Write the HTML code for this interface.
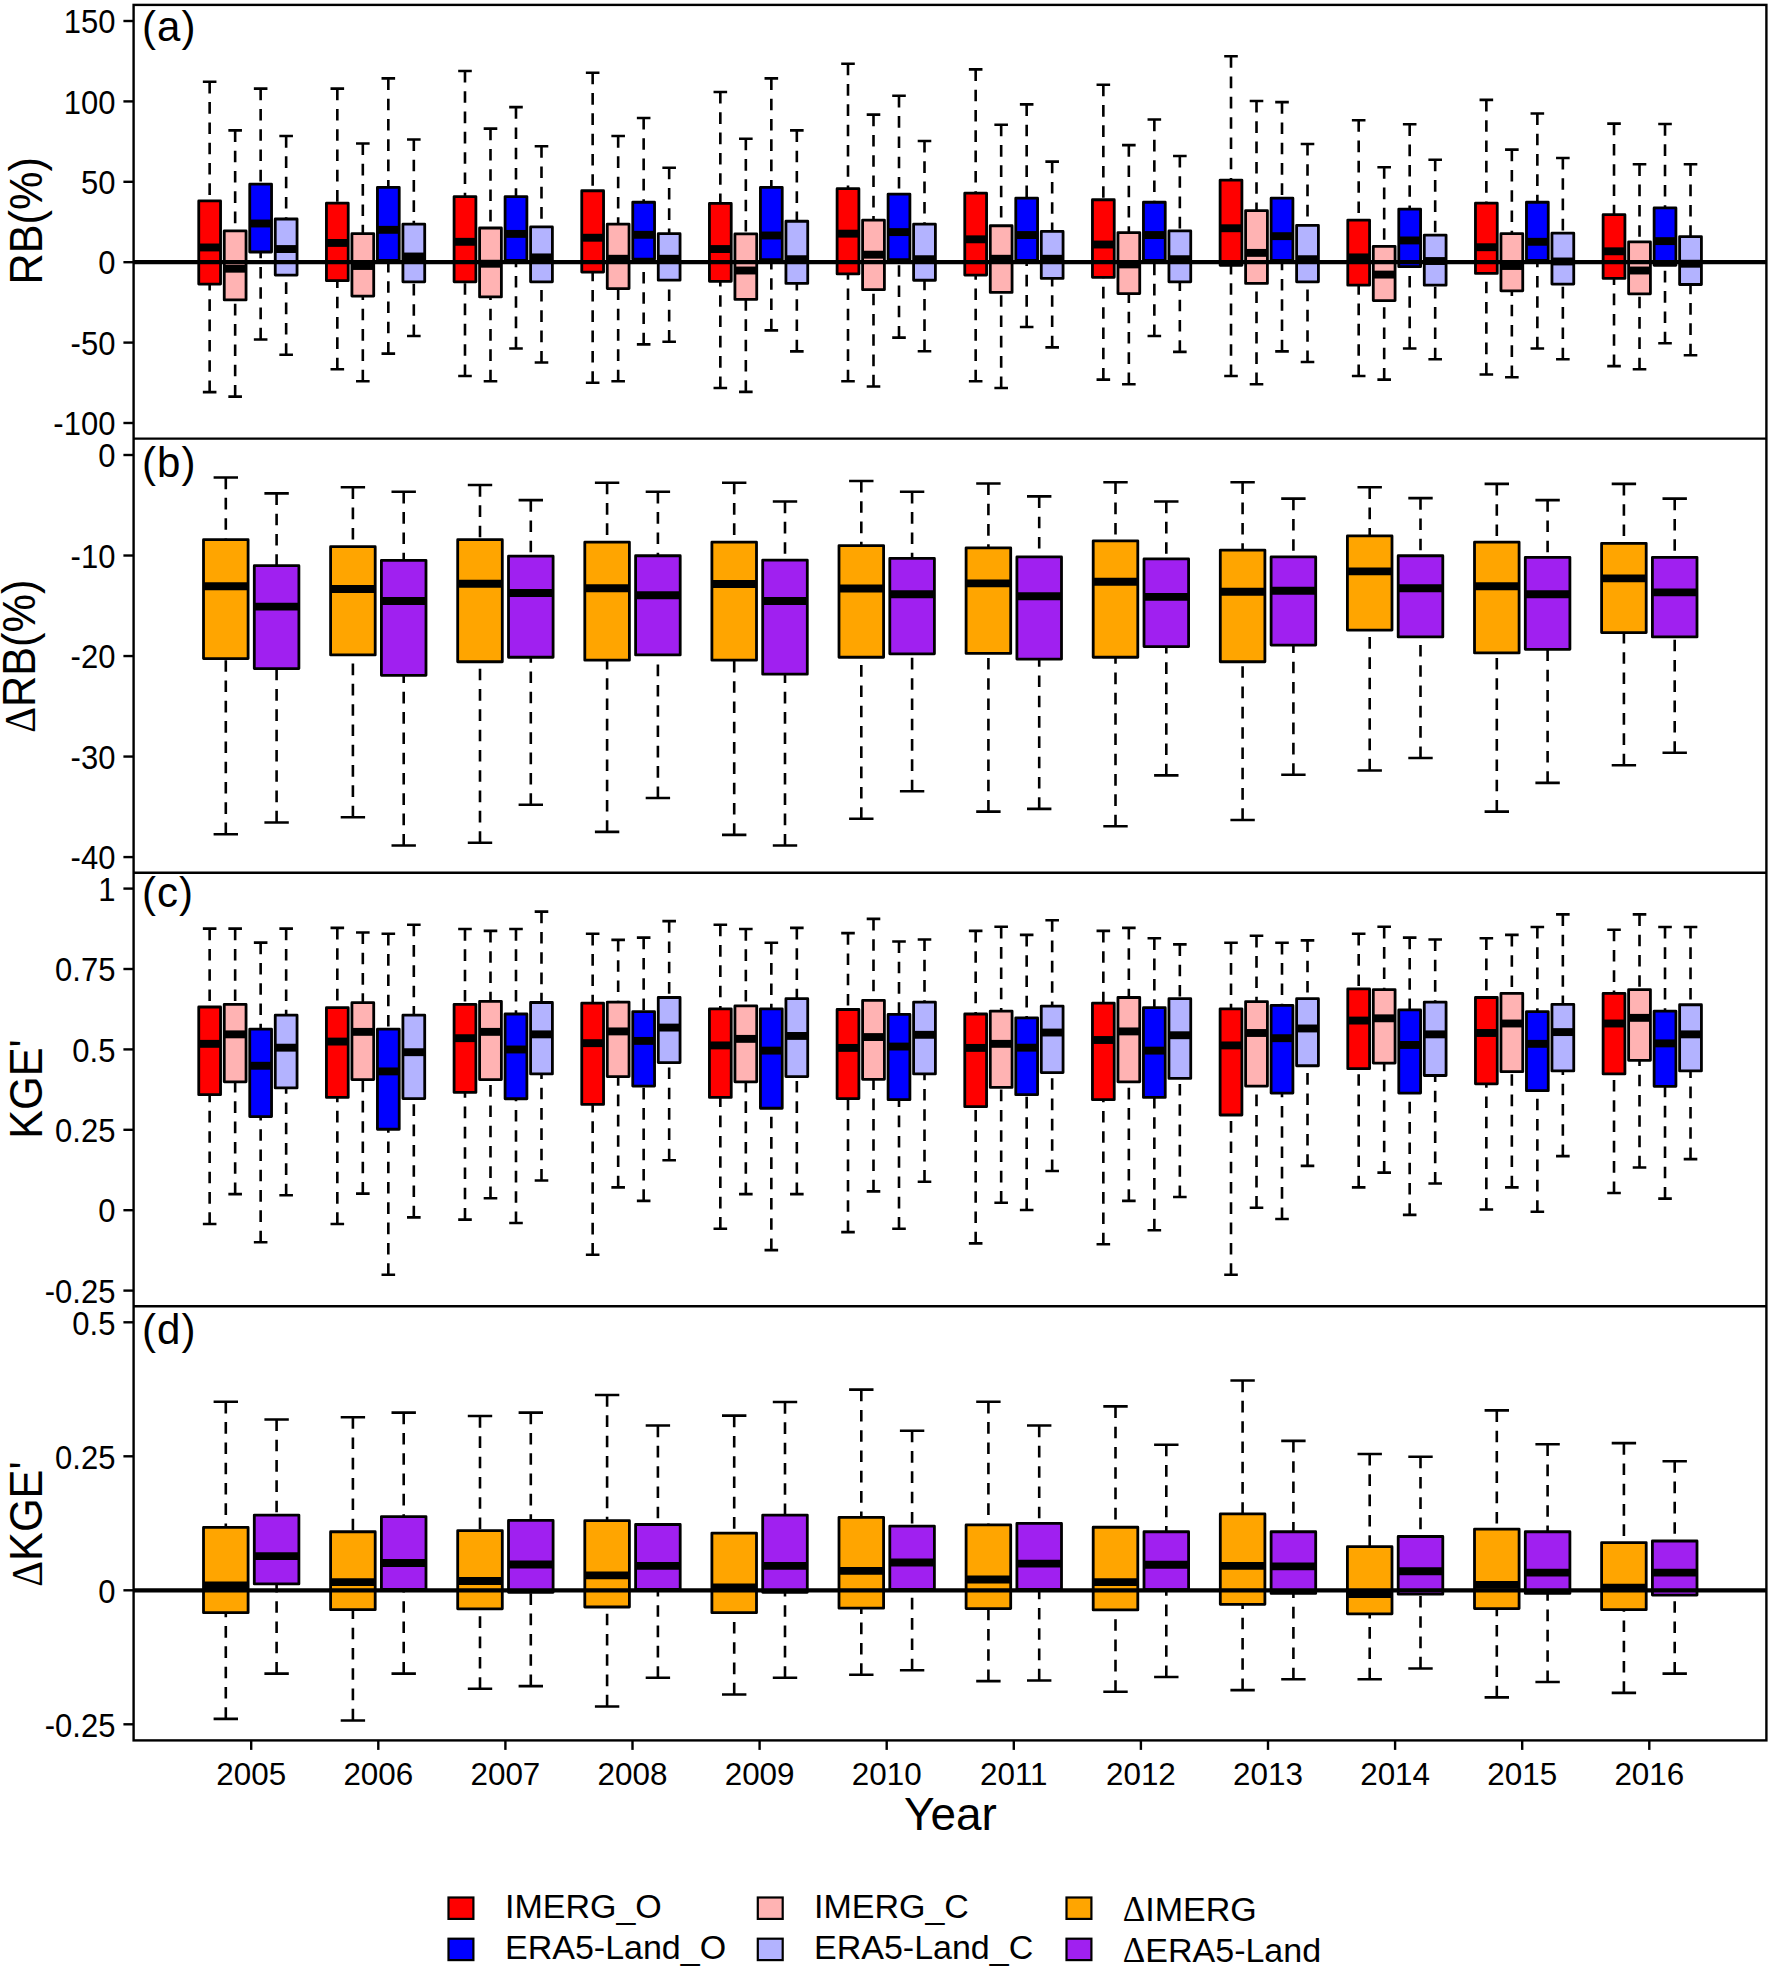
<!DOCTYPE html>
<html lang="en"><head><meta charset="utf-8"><title>Boxplots</title>
<style>html,body{margin:0;padding:0;background:#fff}svg{display:block}</style>
</head><body>
<svg width="1770" height="1970" viewBox="0 0 1770 1970">
<style>
text{font-family:'Liberation Sans',sans-serif;fill:#000}
.wh{stroke:#000;stroke-width:2.6;stroke-dasharray:11.6 8.7;fill:none}
.cap{stroke:#000;stroke-width:2.6;fill:none}
.bx{stroke:#000;stroke-width:2.8;stroke-linejoin:round}
.md{stroke:#000;stroke-width:7.9;fill:none}
.fr{stroke:#000;stroke-width:2.4;fill:none}
.tk{stroke:#000;stroke-width:2.4;fill:none}
.zl{stroke:#000;stroke-width:4.2;fill:none}
.yl{font-size:31px;text-anchor:end}
.xl{font-size:31.4px;text-anchor:middle}
.pl{font-size:42px;letter-spacing:1px}
.yt{font-size:43.3px;text-anchor:middle}
.xt{font-size:45.9px;text-anchor:middle}
.dl{font-family:'Liberation Serif',serif}
.lg{font-size:34px}
.lb{stroke:#000;stroke-width:2.2}
</style>
<rect width="1770" height="1970" fill="#fff"/>
<path d="M209.65 81.81V200.9M209.65 392.09V284.07" class="wh"/>
<path d="M202.85 81.81H216.45M202.85 392.09H216.45" class="cap"/>
<rect x="198.75" y="200.9" width="21.8" height="83.16" fill="#ff0000" class="bx"/>
<path d="M198.75 247.46H220.55" class="md"/>
<path d="M235.15 130.4V230.96M235.15 396.61V299.89" class="wh"/>
<path d="M228.35 130.4H241.95M228.35 396.61H241.95" class="cap"/>
<rect x="224.25" y="230.96" width="21.8" height="68.93" fill="#ffb3b3" class="bx"/>
<path d="M224.25 268.7H246.05" class="md"/>
<path d="M260.65 88.59V184.18M260.65 339.44V251.98" class="wh"/>
<path d="M253.85 88.59H267.45M253.85 339.44H267.45" class="cap"/>
<rect x="249.75" y="184.18" width="21.8" height="67.8" fill="#0000ff" class="bx"/>
<path d="M249.75 223.5H271.55" class="md"/>
<path d="M286.15 136.05V218.98M286.15 354.8V275.03" class="wh"/>
<path d="M279.35 136.05H292.95M279.35 354.8H292.95" class="cap"/>
<rect x="275.25" y="218.98" width="21.8" height="56.05" fill="#b3b3ff" class="bx"/>
<path d="M275.25 249.04H297.05" class="md"/>
<path d="M337.32 88.59V203.16M337.32 369.27V280.68" class="wh"/>
<path d="M330.52 88.59H344.12M330.52 369.27H344.12" class="cap"/>
<rect x="326.42" y="203.16" width="21.8" height="77.51" fill="#ff0000" class="bx"/>
<path d="M326.42 242.94H348.22" class="md"/>
<path d="M362.82 143.5V233.67M362.82 381.24V296.05" class="wh"/>
<path d="M356.02 143.5H369.62M356.02 381.24H369.62" class="cap"/>
<rect x="351.92" y="233.67" width="21.8" height="62.37" fill="#ffb3b3" class="bx"/>
<path d="M351.92 265.99H373.72" class="md"/>
<path d="M388.32 78.42V187.34M388.32 353.67V260.34" class="wh"/>
<path d="M381.52 78.42H395.12M381.52 353.67H395.12" class="cap"/>
<rect x="377.42" y="187.34" width="21.8" height="72.99" fill="#0000ff" class="bx"/>
<path d="M377.42 229.83H399.22" class="md"/>
<path d="M413.82 139.44V224.18M413.82 336.05V281.81" class="wh"/>
<path d="M407.02 139.44H420.62M407.02 336.05H420.62" class="cap"/>
<rect x="402.92" y="224.18" width="21.8" height="57.63" fill="#b3b3ff" class="bx"/>
<path d="M402.92 256.5H424.72" class="md"/>
<path d="M464.99 70.96V196.61M464.99 376.05V281.81" class="wh"/>
<path d="M458.19 70.96H471.79M458.19 376.05H471.79" class="cap"/>
<rect x="454.09" y="196.61" width="21.8" height="85.2" fill="#ff0000" class="bx"/>
<path d="M454.09 241.81H475.89" class="md"/>
<path d="M490.49 128.59V228.02M490.49 381.24V296.95" class="wh"/>
<path d="M483.69 128.59H497.29M483.69 381.24H497.29" class="cap"/>
<rect x="479.59" y="228.02" width="21.8" height="68.93" fill="#ffb3b3" class="bx"/>
<path d="M479.59 263.73H501.39" class="md"/>
<path d="M515.99 107.12V196.61M515.99 348.47V260.34" class="wh"/>
<path d="M509.19 107.12H522.79M509.19 348.47H522.79" class="cap"/>
<rect x="505.09" y="196.61" width="21.8" height="63.73" fill="#0000ff" class="bx"/>
<path d="M505.09 233.9H526.89" class="md"/>
<path d="M541.49 146.21V226.89M541.49 362.49V281.81" class="wh"/>
<path d="M534.69 146.21H548.29M534.69 362.49H548.29" class="cap"/>
<rect x="530.59" y="226.89" width="21.8" height="54.92" fill="#b3b3ff" class="bx"/>
<path d="M530.59 257.4H552.39" class="md"/>
<path d="M592.66 72.77V190.73M592.66 382.82V272.09" class="wh"/>
<path d="M585.86 72.77H599.46M585.86 382.82H599.46" class="cap"/>
<rect x="581.76" y="190.73" width="21.8" height="81.36" fill="#ff0000" class="bx"/>
<path d="M581.76 237.74H603.56" class="md"/>
<path d="M618.16 136.05V224.18M618.16 381.24V288.59" class="wh"/>
<path d="M611.36 136.05H624.96M611.36 381.24H624.96" class="cap"/>
<rect x="607.26" y="224.18" width="21.8" height="64.41" fill="#ffb3b3" class="bx"/>
<path d="M607.26 258.76H629.06" class="md"/>
<path d="M643.66 117.97V202.26M643.66 344.41V259.21" class="wh"/>
<path d="M636.86 117.97H650.46M636.86 344.41H650.46" class="cap"/>
<rect x="632.76" y="202.26" width="21.8" height="56.95" fill="#0000ff" class="bx"/>
<path d="M632.76 234.8H654.56" class="md"/>
<path d="M669.16 167.68V233.67M669.16 341.69V280.23" class="wh"/>
<path d="M662.36 167.68H675.96M662.36 341.69H675.96" class="cap"/>
<rect x="658.26" y="233.67" width="21.8" height="46.55" fill="#b3b3ff" class="bx"/>
<path d="M658.26 258.76H680.06" class="md"/>
<path d="M720.33 91.98V203.39M720.33 388.02V281.36" class="wh"/>
<path d="M713.53 91.98H727.13M713.53 388.02H727.13" class="cap"/>
<rect x="709.43" y="203.39" width="21.8" height="77.97" fill="#ff0000" class="bx"/>
<path d="M709.43 249.04H731.23" class="md"/>
<path d="M745.83 138.76V233.9M745.83 391.86V299.44" class="wh"/>
<path d="M739.03 138.76H752.63M739.03 391.86H752.63" class="cap"/>
<rect x="734.93" y="233.9" width="21.8" height="65.54" fill="#ffb3b3" class="bx"/>
<path d="M734.93 270.51H756.73" class="md"/>
<path d="M771.33 78.42V187.34M771.33 330.4V259.66" class="wh"/>
<path d="M764.53 78.42H778.13M764.53 330.4H778.13" class="cap"/>
<rect x="760.43" y="187.34" width="21.8" height="72.32" fill="#0000ff" class="bx"/>
<path d="M760.43 235.48H782.23" class="md"/>
<path d="M796.83 130.4V221.24M796.83 351.41V283.39" class="wh"/>
<path d="M790.03 130.4H803.63M790.03 351.41H803.63" class="cap"/>
<rect x="785.93" y="221.24" width="21.8" height="62.15" fill="#b3b3ff" class="bx"/>
<path d="M785.93 259.21H807.73" class="md"/>
<path d="M848 63.73V188.7M848 381.24V273.9" class="wh"/>
<path d="M841.2 63.73H854.8M841.2 381.24H854.8" class="cap"/>
<rect x="837.1" y="188.7" width="21.8" height="85.2" fill="#ff0000" class="bx"/>
<path d="M837.1 233.67H858.9" class="md"/>
<path d="M873.5 114.58V220.11M873.5 386.44V289.72" class="wh"/>
<path d="M866.7 114.58H880.3M866.7 386.44H880.3" class="cap"/>
<rect x="862.6" y="220.11" width="21.8" height="69.6" fill="#ffb3b3" class="bx"/>
<path d="M862.6 254.69H884.4" class="md"/>
<path d="M899 95.82V194.12M899 337.63V259.66" class="wh"/>
<path d="M892.2 95.82H905.8M892.2 337.63H905.8" class="cap"/>
<rect x="888.1" y="194.12" width="21.8" height="65.54" fill="#0000ff" class="bx"/>
<path d="M888.1 232.09H909.9" class="md"/>
<path d="M924.5 141.02V224.18M924.5 351.19V280.23" class="wh"/>
<path d="M917.7 141.02H931.3M917.7 351.19H931.3" class="cap"/>
<rect x="913.6" y="224.18" width="21.8" height="56.05" fill="#b3b3ff" class="bx"/>
<path d="M913.6 259.21H935.4" class="md"/>
<path d="M975.67 69.38V193.22M975.67 381.24V275.03" class="wh"/>
<path d="M968.87 69.38H982.47M968.87 381.24H982.47" class="cap"/>
<rect x="964.77" y="193.22" width="21.8" height="81.81" fill="#ff0000" class="bx"/>
<path d="M964.77 239.32H986.57" class="md"/>
<path d="M1001.17 124.75V225.76M1001.17 388.02V292.43" class="wh"/>
<path d="M994.37 124.75H1007.97M994.37 388.02H1007.97" class="cap"/>
<rect x="990.27" y="225.76" width="21.8" height="66.67" fill="#ffb3b3" class="bx"/>
<path d="M990.27 258.76H1012.07" class="md"/>
<path d="M1026.67 104.41V198.19M1026.67 327.01V260.34" class="wh"/>
<path d="M1019.87 104.41H1033.47M1019.87 327.01H1033.47" class="cap"/>
<rect x="1015.77" y="198.19" width="21.8" height="62.15" fill="#0000ff" class="bx"/>
<path d="M1015.77 235.03H1037.57" class="md"/>
<path d="M1052.17 161.58V231.41M1052.17 347.34V278.42" class="wh"/>
<path d="M1045.37 161.58H1058.97M1045.37 347.34H1058.97" class="cap"/>
<rect x="1041.27" y="231.41" width="21.8" height="47.01" fill="#b3b3ff" class="bx"/>
<path d="M1041.27 258.76H1063.07" class="md"/>
<path d="M1103.34 84.75V199.77M1103.34 379.66V277.29" class="wh"/>
<path d="M1096.54 84.75H1110.14M1096.54 379.66H1110.14" class="cap"/>
<rect x="1092.44" y="199.77" width="21.8" height="77.51" fill="#ff0000" class="bx"/>
<path d="M1092.44 244.52H1114.24" class="md"/>
<path d="M1128.84 145.08V232.54M1128.84 384.18V293.56" class="wh"/>
<path d="M1122.04 145.08H1135.64M1122.04 384.18H1135.64" class="cap"/>
<rect x="1117.94" y="232.54" width="21.8" height="61.02" fill="#ffb3b3" class="bx"/>
<path d="M1117.94 264.41H1139.74" class="md"/>
<path d="M1154.34 119.55V202.26M1154.34 336.05V260.34" class="wh"/>
<path d="M1147.54 119.55H1161.14M1147.54 336.05H1161.14" class="cap"/>
<rect x="1143.44" y="202.26" width="21.8" height="58.08" fill="#0000ff" class="bx"/>
<path d="M1143.44 235.03H1165.24" class="md"/>
<path d="M1179.84 155.93V230.96M1179.84 351.86V281.81" class="wh"/>
<path d="M1173.04 155.93H1186.64M1173.04 351.86H1186.64" class="cap"/>
<rect x="1168.94" y="230.96" width="21.8" height="50.85" fill="#b3b3ff" class="bx"/>
<path d="M1168.94 259.21H1190.74" class="md"/>
<path d="M1231.01 56.27V180.11M1231.01 376.05V265.31" class="wh"/>
<path d="M1224.21 56.27H1237.81M1224.21 376.05H1237.81" class="cap"/>
<rect x="1220.11" y="180.11" width="21.8" height="85.2" fill="#ff0000" class="bx"/>
<path d="M1220.11 228.25H1241.91" class="md"/>
<path d="M1256.51 101.02V210.62M1256.51 384.18V283.39" class="wh"/>
<path d="M1249.71 101.02H1263.31M1249.71 384.18H1263.31" class="cap"/>
<rect x="1245.61" y="210.62" width="21.8" height="72.77" fill="#ffb3b3" class="bx"/>
<path d="M1245.61 252.88H1267.41" class="md"/>
<path d="M1282.01 102.15V198.19M1282.01 351.41V260.34" class="wh"/>
<path d="M1275.21 102.15H1288.81M1275.21 351.41H1288.81" class="cap"/>
<rect x="1271.11" y="198.19" width="21.8" height="62.15" fill="#0000ff" class="bx"/>
<path d="M1271.11 236.16H1292.91" class="md"/>
<path d="M1307.51 143.95V225.31M1307.51 362.03V281.81" class="wh"/>
<path d="M1300.71 143.95H1314.31M1300.71 362.03H1314.31" class="cap"/>
<rect x="1296.61" y="225.31" width="21.8" height="56.5" fill="#b3b3ff" class="bx"/>
<path d="M1296.61 259.21H1318.41" class="md"/>
<path d="M1358.68 120.23V220.11M1358.68 376.05V285.2" class="wh"/>
<path d="M1351.88 120.23H1365.48M1351.88 376.05H1365.48" class="cap"/>
<rect x="1347.78" y="220.11" width="21.8" height="65.08" fill="#ff0000" class="bx"/>
<path d="M1347.78 257.4H1369.58" class="md"/>
<path d="M1384.18 167.23V246.33M1384.18 379.66V300.56" class="wh"/>
<path d="M1377.38 167.23H1390.98M1377.38 379.66H1390.98" class="cap"/>
<rect x="1373.28" y="246.33" width="21.8" height="54.24" fill="#ffb3b3" class="bx"/>
<path d="M1373.28 274.58H1395.08" class="md"/>
<path d="M1409.68 124.29V209.04M1409.68 348.47V266.67" class="wh"/>
<path d="M1402.88 124.29H1416.48M1402.88 348.47H1416.48" class="cap"/>
<rect x="1398.78" y="209.04" width="21.8" height="57.63" fill="#0000ff" class="bx"/>
<path d="M1398.78 240.45H1420.58" class="md"/>
<path d="M1435.18 159.77V235.03M1435.18 359.32V285.2" class="wh"/>
<path d="M1428.38 159.77H1441.98M1428.38 359.32H1441.98" class="cap"/>
<rect x="1424.28" y="235.03" width="21.8" height="50.17" fill="#b3b3ff" class="bx"/>
<path d="M1424.28 261.02H1446.08" class="md"/>
<path d="M1486.35 99.89V203.16M1486.35 374.46V273.45" class="wh"/>
<path d="M1479.55 99.89H1493.15M1479.55 374.46H1493.15" class="cap"/>
<rect x="1475.45" y="203.16" width="21.8" height="70.28" fill="#ff0000" class="bx"/>
<path d="M1475.45 247.23H1497.25" class="md"/>
<path d="M1511.85 149.6V233.67M1511.85 377.18V290.85" class="wh"/>
<path d="M1505.05 149.6H1518.65M1505.05 377.18H1518.65" class="cap"/>
<rect x="1500.95" y="233.67" width="21.8" height="57.18" fill="#ffb3b3" class="bx"/>
<path d="M1500.95 265.99H1522.75" class="md"/>
<path d="M1537.35 113.45V202.26M1537.35 348.47V260.34" class="wh"/>
<path d="M1530.55 113.45H1544.15M1530.55 348.47H1544.15" class="cap"/>
<rect x="1526.45" y="202.26" width="21.8" height="58.08" fill="#0000ff" class="bx"/>
<path d="M1526.45 241.81H1548.25" class="md"/>
<path d="M1562.85 157.97V233.22M1562.85 359.32V284.07" class="wh"/>
<path d="M1556.05 157.97H1569.65M1556.05 359.32H1569.65" class="cap"/>
<rect x="1551.95" y="233.22" width="21.8" height="50.85" fill="#b3b3ff" class="bx"/>
<path d="M1551.95 261.47H1573.75" class="md"/>
<path d="M1614.02 123.62V214.69M1614.02 366.1V278.42" class="wh"/>
<path d="M1607.22 123.62H1620.82M1607.22 366.1H1620.82" class="cap"/>
<rect x="1603.12" y="214.69" width="21.8" height="63.73" fill="#ff0000" class="bx"/>
<path d="M1603.12 251.3H1624.92" class="md"/>
<path d="M1639.52 164.29V241.81M1639.52 369.27V293.79" class="wh"/>
<path d="M1632.72 164.29H1646.32M1632.72 369.27H1646.32" class="cap"/>
<rect x="1628.62" y="241.81" width="21.8" height="51.98" fill="#ffb3b3" class="bx"/>
<path d="M1628.62 270.51H1650.42" class="md"/>
<path d="M1665.02 124.07V207.91M1665.02 343.28V265.31" class="wh"/>
<path d="M1658.22 124.07H1671.82M1658.22 343.28H1671.82" class="cap"/>
<rect x="1654.12" y="207.91" width="21.8" height="57.4" fill="#0000ff" class="bx"/>
<path d="M1654.12 241.13H1675.92" class="md"/>
<path d="M1690.52 164.29V236.61M1690.52 355.25V284.52" class="wh"/>
<path d="M1683.72 164.29H1697.32M1683.72 355.25H1697.32" class="cap"/>
<rect x="1679.62" y="236.61" width="21.8" height="47.91" fill="#b3b3ff" class="bx"/>
<path d="M1679.62 263.73H1701.42" class="md"/>
<path d="M225.8 477.57V539.72M225.8 834.18V658.59" class="wh"/>
<path d="M213.6 477.57H238M213.6 834.18H238" class="cap"/>
<rect x="203.5" y="539.72" width="44.6" height="118.87" fill="#ffa500" class="bx"/>
<path d="M203.5 586.27H248.1" class="md"/>
<path d="M276.6 493.39V565.71M276.6 822.43V668.53" class="wh"/>
<path d="M264.4 493.39H288.8M264.4 822.43H288.8" class="cap"/>
<rect x="254.3" y="565.71" width="44.6" height="102.82" fill="#a020f0" class="bx"/>
<path d="M254.3 606.61H298.9" class="md"/>
<path d="M352.9 487.29V546.72M352.9 817.23V654.97" class="wh"/>
<path d="M340.7 487.29H365.1M340.7 817.23H365.1" class="cap"/>
<rect x="330.6" y="546.72" width="44.6" height="108.25" fill="#ffa500" class="bx"/>
<path d="M330.6 588.98H375.2" class="md"/>
<path d="M403.7 491.81V560.28M403.7 845.48V675.31" class="wh"/>
<path d="M391.5 491.81H415.9M391.5 845.48H415.9" class="cap"/>
<rect x="381.4" y="560.28" width="44.6" height="115.03" fill="#a020f0" class="bx"/>
<path d="M381.4 600.96H426" class="md"/>
<path d="M480 485.03V539.72M480 842.77V661.75" class="wh"/>
<path d="M467.8 485.03H492.2M467.8 842.77H492.2" class="cap"/>
<rect x="457.7" y="539.72" width="44.6" height="122.03" fill="#ffa500" class="bx"/>
<path d="M457.7 583.79H502.3" class="md"/>
<path d="M530.8 500.17V556.21M530.8 804.8V657.23" class="wh"/>
<path d="M518.6 500.17H543M518.6 804.8H543" class="cap"/>
<rect x="508.5" y="556.21" width="44.6" height="101.02" fill="#a020f0" class="bx"/>
<path d="M508.5 593.05H553.1" class="md"/>
<path d="M607.1 482.77V542.2M607.1 831.92V660.17" class="wh"/>
<path d="M594.9 482.77H619.3M594.9 831.92H619.3" class="cap"/>
<rect x="584.8" y="542.2" width="44.6" height="117.97" fill="#ffa500" class="bx"/>
<path d="M584.8 588.31H629.4" class="md"/>
<path d="M657.9 491.81V555.76M657.9 798.02V654.97" class="wh"/>
<path d="M645.7 491.81H670.1M645.7 798.02H670.1" class="cap"/>
<rect x="635.6" y="555.76" width="44.6" height="99.21" fill="#a020f0" class="bx"/>
<path d="M635.6 595.31H680.2" class="md"/>
<path d="M734.2 482.77V542.2M734.2 834.86V660.17" class="wh"/>
<path d="M722 482.77H746.4M722 834.86H746.4" class="cap"/>
<rect x="711.9" y="542.2" width="44.6" height="117.97" fill="#ffa500" class="bx"/>
<path d="M711.9 584.01H756.5" class="md"/>
<path d="M785 501.53V560.06M785 845.48V674.18" class="wh"/>
<path d="M772.8 501.53H797.2M772.8 845.48H797.2" class="cap"/>
<rect x="762.7" y="560.06" width="44.6" height="114.12" fill="#a020f0" class="bx"/>
<path d="M762.7 600.96H807.3" class="md"/>
<path d="M861.3 480.96V545.59M861.3 818.81V657.23" class="wh"/>
<path d="M849.1 480.96H873.5M849.1 818.81H873.5" class="cap"/>
<rect x="839" y="545.59" width="44.6" height="111.64" fill="#ffa500" class="bx"/>
<path d="M839 588.53H883.6" class="md"/>
<path d="M912.1 491.81V558.47M912.1 791.24V653.84" class="wh"/>
<path d="M899.9 491.81H924.3M899.9 791.24H924.3" class="cap"/>
<rect x="889.8" y="558.47" width="44.6" height="95.37" fill="#a020f0" class="bx"/>
<path d="M889.8 594.18H934.4" class="md"/>
<path d="M988.4 483.45V547.85M988.4 811.58V653.39" class="wh"/>
<path d="M976.2 483.45H1000.6M976.2 811.58H1000.6" class="cap"/>
<rect x="966.1" y="547.85" width="44.6" height="105.54" fill="#ffa500" class="bx"/>
<path d="M966.1 583.33H1010.7" class="md"/>
<path d="M1039.2 496.33V556.89M1039.2 808.87V659.04" class="wh"/>
<path d="M1027 496.33H1051.4M1027 808.87H1051.4" class="cap"/>
<rect x="1016.9" y="556.89" width="44.6" height="102.15" fill="#a020f0" class="bx"/>
<path d="M1016.9 596.21H1061.5" class="md"/>
<path d="M1115.5 482.32V540.85M1115.5 826.27V657.23" class="wh"/>
<path d="M1103.3 482.32H1127.7M1103.3 826.27H1127.7" class="cap"/>
<rect x="1093.2" y="540.85" width="44.6" height="116.38" fill="#ffa500" class="bx"/>
<path d="M1093.2 581.75H1137.8" class="md"/>
<path d="M1166.3 501.53V558.93M1166.3 775.42V646.61" class="wh"/>
<path d="M1154.1 501.53H1178.5M1154.1 775.42H1178.5" class="cap"/>
<rect x="1144" y="558.93" width="44.6" height="87.68" fill="#a020f0" class="bx"/>
<path d="M1144 596.89H1188.6" class="md"/>
<path d="M1242.6 482.32V550.11M1242.6 819.94V661.75" class="wh"/>
<path d="M1230.4 482.32H1254.8M1230.4 819.94H1254.8" class="cap"/>
<rect x="1220.3" y="550.11" width="44.6" height="111.64" fill="#ffa500" class="bx"/>
<path d="M1220.3 591.69H1264.9" class="md"/>
<path d="M1293.4 498.59V556.89M1293.4 774.75V645.03" class="wh"/>
<path d="M1281.2 498.59H1305.6M1281.2 774.75H1305.6" class="cap"/>
<rect x="1271.1" y="556.89" width="44.6" height="88.14" fill="#a020f0" class="bx"/>
<path d="M1271.1 590.79H1315.7" class="md"/>
<path d="M1369.7 487.29V535.88M1369.7 770.45V630.11" class="wh"/>
<path d="M1357.5 487.29H1381.9M1357.5 770.45H1381.9" class="cap"/>
<rect x="1347.4" y="535.88" width="44.6" height="94.24" fill="#ffa500" class="bx"/>
<path d="M1347.4 571.36H1392" class="md"/>
<path d="M1420.5 498.14V555.76M1420.5 758.02V636.89" class="wh"/>
<path d="M1408.3 498.14H1432.7M1408.3 758.02H1432.7" class="cap"/>
<rect x="1398.2" y="555.76" width="44.6" height="81.13" fill="#a020f0" class="bx"/>
<path d="M1398.2 588.31H1442.8" class="md"/>
<path d="M1496.8 483.9V542.2M1496.8 811.58V652.94" class="wh"/>
<path d="M1484.6 483.9H1509M1484.6 811.58H1509" class="cap"/>
<rect x="1474.5" y="542.2" width="44.6" height="110.73" fill="#ffa500" class="bx"/>
<path d="M1474.5 586.27H1519.1" class="md"/>
<path d="M1547.6 500.17V557.34M1547.6 782.88V649.32" class="wh"/>
<path d="M1535.4 500.17H1559.8M1535.4 782.88H1559.8" class="cap"/>
<rect x="1525.3" y="557.34" width="44.6" height="91.98" fill="#a020f0" class="bx"/>
<path d="M1525.3 594.18H1569.9" class="md"/>
<path d="M1623.9 483.9V543.33M1623.9 765.25V632.6" class="wh"/>
<path d="M1611.7 483.9H1636.1M1611.7 765.25H1636.1" class="cap"/>
<rect x="1601.6" y="543.33" width="44.6" height="89.27" fill="#ffa500" class="bx"/>
<path d="M1601.6 578.36H1646.2" class="md"/>
<path d="M1674.7 498.59V557.34M1674.7 752.82V636.89" class="wh"/>
<path d="M1662.5 498.59H1686.9M1662.5 752.82H1686.9" class="cap"/>
<rect x="1652.4" y="557.34" width="44.6" height="79.55" fill="#a020f0" class="bx"/>
<path d="M1652.4 592.37H1697" class="md"/>
<path d="M209.65 928.59V1007.01M209.65 1223.95V1094.69" class="wh"/>
<path d="M202.85 928.59H216.45M202.85 1223.95H216.45" class="cap"/>
<rect x="198.75" y="1007.01" width="21.8" height="87.68" fill="#ff0000" class="bx"/>
<path d="M198.75 1043.84H220.55" class="md"/>
<path d="M235.15 928.59V1004.29M235.15 1194.12V1081.81" class="wh"/>
<path d="M228.35 928.59H241.95M228.35 1194.12H241.95" class="cap"/>
<rect x="224.25" y="1004.29" width="21.8" height="77.51" fill="#ffb3b3" class="bx"/>
<path d="M224.25 1034.35H246.05" class="md"/>
<path d="M260.65 942.6V1029.15M260.65 1242.26V1116.61" class="wh"/>
<path d="M253.85 942.6H267.45M253.85 1242.26H267.45" class="cap"/>
<rect x="249.75" y="1029.15" width="21.8" height="87.46" fill="#0000ff" class="bx"/>
<path d="M249.75 1065.76H271.55" class="md"/>
<path d="M286.15 928.59V1015.14M286.15 1195.25V1087.91" class="wh"/>
<path d="M279.35 928.59H292.95M279.35 1195.25H292.95" class="cap"/>
<rect x="275.25" y="1015.14" width="21.8" height="72.77" fill="#b3b3ff" class="bx"/>
<path d="M275.25 1047.68H297.05" class="md"/>
<path d="M337.32 927.91V1007.68M337.32 1223.95V1097.4" class="wh"/>
<path d="M330.52 927.91H344.12M330.52 1223.95H344.12" class="cap"/>
<rect x="326.42" y="1007.68" width="21.8" height="89.72" fill="#ff0000" class="bx"/>
<path d="M326.42 1041.58H348.22" class="md"/>
<path d="M362.82 932.43V1002.71M362.82 1193.67V1079.55" class="wh"/>
<path d="M356.02 932.43H369.62M356.02 1193.67H369.62" class="cap"/>
<rect x="351.92" y="1002.71" width="21.8" height="76.84" fill="#ffb3b3" class="bx"/>
<path d="M351.92 1031.86H373.72" class="md"/>
<path d="M388.32 933.79V1029.15M388.32 1274.8V1129.27" class="wh"/>
<path d="M381.52 933.79H395.12M381.52 1274.8H395.12" class="cap"/>
<rect x="377.42" y="1029.15" width="21.8" height="100.11" fill="#0000ff" class="bx"/>
<path d="M377.42 1071.41H399.22" class="md"/>
<path d="M413.82 924.75V1015.14M413.82 1217.4V1098.53" class="wh"/>
<path d="M407.02 924.75H420.62M407.02 1217.4H420.62" class="cap"/>
<rect x="402.92" y="1015.14" width="21.8" height="83.39" fill="#b3b3ff" class="bx"/>
<path d="M402.92 1052.2H424.72" class="md"/>
<path d="M464.99 929.04V1004.29M464.99 1219.66V1092.43" class="wh"/>
<path d="M458.19 929.04H471.79M458.19 1219.66H471.79" class="cap"/>
<rect x="454.09" y="1004.29" width="21.8" height="88.14" fill="#ff0000" class="bx"/>
<path d="M454.09 1038.19H475.89" class="md"/>
<path d="M490.49 930.85V1001.36M490.49 1198.19V1079.55" class="wh"/>
<path d="M483.69 930.85H497.29M483.69 1198.19H497.29" class="cap"/>
<rect x="479.59" y="1001.36" width="21.8" height="78.19" fill="#ffb3b3" class="bx"/>
<path d="M479.59 1031.86H501.39" class="md"/>
<path d="M515.99 929.04V1014.01M515.99 1223.05V1098.76" class="wh"/>
<path d="M509.19 929.04H522.79M509.19 1223.05H522.79" class="cap"/>
<rect x="505.09" y="1014.01" width="21.8" height="84.75" fill="#0000ff" class="bx"/>
<path d="M505.09 1049.49H526.89" class="md"/>
<path d="M541.49 911.64V1002.49M541.49 1180.56V1073.9" class="wh"/>
<path d="M534.69 911.64H548.29M534.69 1180.56H548.29" class="cap"/>
<rect x="530.59" y="1002.49" width="21.8" height="71.41" fill="#b3b3ff" class="bx"/>
<path d="M530.59 1034.35H552.39" class="md"/>
<path d="M592.66 933.79V1003.16M592.66 1254.69V1104.41" class="wh"/>
<path d="M585.86 933.79H599.46M585.86 1254.69H599.46" class="cap"/>
<rect x="581.76" y="1003.16" width="21.8" height="101.24" fill="#ff0000" class="bx"/>
<path d="M581.76 1043.16H603.56" class="md"/>
<path d="M618.16 939.89V1002.03M618.16 1187.34V1076.61" class="wh"/>
<path d="M611.36 939.89H624.96M611.36 1187.34H624.96" class="cap"/>
<rect x="607.26" y="1002.03" width="21.8" height="74.58" fill="#ffb3b3" class="bx"/>
<path d="M607.26 1031.41H629.06" class="md"/>
<path d="M643.66 937.63V1011.53M643.66 1200.9V1086.1" class="wh"/>
<path d="M636.86 937.63H650.46M636.86 1200.9H650.46" class="cap"/>
<rect x="632.76" y="1011.53" width="21.8" height="74.58" fill="#0000ff" class="bx"/>
<path d="M632.76 1040.9H654.56" class="md"/>
<path d="M669.16 921.13V997.51M669.16 1160.23V1062.6" class="wh"/>
<path d="M662.36 921.13H675.96M662.36 1160.23H675.96" class="cap"/>
<rect x="658.26" y="997.51" width="21.8" height="65.08" fill="#b3b3ff" class="bx"/>
<path d="M658.26 1027.57H680.06" class="md"/>
<path d="M720.33 924.75V1008.81M720.33 1228.7V1097.4" class="wh"/>
<path d="M713.53 924.75H727.13M713.53 1228.7H727.13" class="cap"/>
<rect x="709.43" y="1008.81" width="21.8" height="88.59" fill="#ff0000" class="bx"/>
<path d="M709.43 1045.42H731.23" class="md"/>
<path d="M745.83 929.04V1005.88M745.83 1194.12V1081.81" class="wh"/>
<path d="M739.03 929.04H752.63M739.03 1194.12H752.63" class="cap"/>
<rect x="734.93" y="1005.88" width="21.8" height="75.93" fill="#ffb3b3" class="bx"/>
<path d="M734.93 1038.87H756.73" class="md"/>
<path d="M771.33 942.82V1008.81M771.33 1250.17V1108.25" class="wh"/>
<path d="M764.53 942.82H778.13M764.53 1250.17H778.13" class="cap"/>
<rect x="760.43" y="1008.81" width="21.8" height="99.44" fill="#0000ff" class="bx"/>
<path d="M760.43 1050.62H782.23" class="md"/>
<path d="M796.83 927.91V998.64M796.83 1194.12V1076.61" class="wh"/>
<path d="M790.03 927.91H803.63M790.03 1194.12H803.63" class="cap"/>
<rect x="785.93" y="998.64" width="21.8" height="77.97" fill="#b3b3ff" class="bx"/>
<path d="M785.93 1035.93H807.73" class="md"/>
<path d="M848 933.11V1009.49M848 1232.09V1098.53" class="wh"/>
<path d="M841.2 933.11H854.8M841.2 1232.09H854.8" class="cap"/>
<rect x="837.1" y="1009.49" width="21.8" height="89.04" fill="#ff0000" class="bx"/>
<path d="M837.1 1047.91H858.9" class="md"/>
<path d="M873.5 918.87V1000.45M873.5 1191.41V1079.32" class="wh"/>
<path d="M866.7 918.87H880.3M866.7 1191.41H880.3" class="cap"/>
<rect x="862.6" y="1000.45" width="21.8" height="78.87" fill="#ffb3b3" class="bx"/>
<path d="M862.6 1037.06H884.4" class="md"/>
<path d="M899 941.47V1014.46M899 1228.7V1099.66" class="wh"/>
<path d="M892.2 941.47H905.8M892.2 1228.7H905.8" class="cap"/>
<rect x="888.1" y="1014.46" width="21.8" height="85.2" fill="#0000ff" class="bx"/>
<path d="M888.1 1046.55H909.9" class="md"/>
<path d="M924.5 939.44V1002.03M924.5 1181.69V1073.9" class="wh"/>
<path d="M917.7 939.44H931.3M917.7 1181.69H931.3" class="cap"/>
<rect x="913.6" y="1002.03" width="21.8" height="71.86" fill="#b3b3ff" class="bx"/>
<path d="M913.6 1034.8H935.4" class="md"/>
<path d="M975.67 930.85V1014.01M975.67 1243.39V1106.67" class="wh"/>
<path d="M968.87 930.85H982.47M968.87 1243.39H982.47" class="cap"/>
<rect x="964.77" y="1014.01" width="21.8" height="92.66" fill="#ff0000" class="bx"/>
<path d="M964.77 1047.91H986.57" class="md"/>
<path d="M1001.17 926.78V1011.07M1001.17 1202.71V1087.46" class="wh"/>
<path d="M994.37 926.78H1007.97M994.37 1202.71H1007.97" class="cap"/>
<rect x="990.27" y="1011.07" width="21.8" height="76.38" fill="#ffb3b3" class="bx"/>
<path d="M990.27 1043.84H1012.07" class="md"/>
<path d="M1026.67 934.92V1017.85M1026.67 1209.94V1094.69" class="wh"/>
<path d="M1019.87 934.92H1033.47M1019.87 1209.94H1033.47" class="cap"/>
<rect x="1015.77" y="1017.85" width="21.8" height="76.84" fill="#0000ff" class="bx"/>
<path d="M1015.77 1047.68H1037.57" class="md"/>
<path d="M1052.17 920.23V1006.1M1052.17 1171.07V1072.54" class="wh"/>
<path d="M1045.37 920.23H1058.97M1045.37 1171.07H1058.97" class="cap"/>
<rect x="1041.27" y="1006.1" width="21.8" height="66.44" fill="#b3b3ff" class="bx"/>
<path d="M1041.27 1032.54H1063.07" class="md"/>
<path d="M1103.34 930.85V1003.16M1103.34 1244.29V1099.66" class="wh"/>
<path d="M1096.54 930.85H1110.14M1096.54 1244.29H1110.14" class="cap"/>
<rect x="1092.44" y="1003.16" width="21.8" height="96.5" fill="#ff0000" class="bx"/>
<path d="M1092.44 1040H1114.24" class="md"/>
<path d="M1128.84 927.91V997.51M1128.84 1200.9V1081.81" class="wh"/>
<path d="M1122.04 927.91H1135.64M1122.04 1200.9H1135.64" class="cap"/>
<rect x="1117.94" y="997.51" width="21.8" height="84.29" fill="#ffb3b3" class="bx"/>
<path d="M1117.94 1031.41H1139.74" class="md"/>
<path d="M1154.34 938.31V1007.68M1154.34 1230.28V1097.4" class="wh"/>
<path d="M1147.54 938.31H1161.14M1147.54 1230.28H1161.14" class="cap"/>
<rect x="1143.44" y="1007.68" width="21.8" height="89.72" fill="#0000ff" class="bx"/>
<path d="M1143.44 1050.62H1165.24" class="md"/>
<path d="M1179.84 944.41V998.64M1179.84 1197.06V1078.42" class="wh"/>
<path d="M1173.04 944.41H1186.64M1173.04 1197.06H1186.64" class="cap"/>
<rect x="1168.94" y="998.64" width="21.8" height="79.77" fill="#b3b3ff" class="bx"/>
<path d="M1168.94 1035.25H1190.74" class="md"/>
<path d="M1231.01 942.82V1008.81M1231.01 1274.8V1115.03" class="wh"/>
<path d="M1224.21 942.82H1237.81M1224.21 1274.8H1237.81" class="cap"/>
<rect x="1220.11" y="1008.81" width="21.8" height="106.21" fill="#ff0000" class="bx"/>
<path d="M1220.11 1045.42H1241.91" class="md"/>
<path d="M1256.51 935.82V1001.58M1256.51 1207.68V1086.1" class="wh"/>
<path d="M1249.71 935.82H1263.31M1249.71 1207.68H1263.31" class="cap"/>
<rect x="1245.61" y="1001.58" width="21.8" height="84.52" fill="#ffb3b3" class="bx"/>
<path d="M1245.61 1032.99H1267.41" class="md"/>
<path d="M1282.01 942.82V1005.42M1282.01 1218.98V1093.11" class="wh"/>
<path d="M1275.21 942.82H1288.81M1275.21 1218.98H1288.81" class="cap"/>
<rect x="1271.11" y="1005.42" width="21.8" height="87.68" fill="#0000ff" class="bx"/>
<path d="M1271.11 1038.19H1292.91" class="md"/>
<path d="M1307.51 940.34V998.64M1307.51 1165.88V1065.76" class="wh"/>
<path d="M1300.71 940.34H1314.31M1300.71 1165.88H1314.31" class="cap"/>
<rect x="1296.61" y="998.64" width="21.8" height="67.12" fill="#b3b3ff" class="bx"/>
<path d="M1296.61 1028.47H1318.41" class="md"/>
<path d="M1358.68 933.79V988.93M1358.68 1187.34V1068.7" class="wh"/>
<path d="M1351.88 933.79H1365.48M1351.88 1187.34H1365.48" class="cap"/>
<rect x="1347.78" y="988.93" width="21.8" height="79.77" fill="#ff0000" class="bx"/>
<path d="M1347.78 1020.56H1369.58" class="md"/>
<path d="M1384.18 926.78V989.6M1384.18 1172.66V1063.05" class="wh"/>
<path d="M1377.38 926.78H1390.98M1377.38 1172.66H1390.98" class="cap"/>
<rect x="1373.28" y="989.6" width="21.8" height="73.45" fill="#ffb3b3" class="bx"/>
<path d="M1373.28 1018.31H1395.08" class="md"/>
<path d="M1409.68 937.63V1009.94M1409.68 1214.92V1093.11" class="wh"/>
<path d="M1402.88 937.63H1416.48M1402.88 1214.92H1416.48" class="cap"/>
<rect x="1398.78" y="1009.94" width="21.8" height="83.16" fill="#0000ff" class="bx"/>
<path d="M1398.78 1044.97H1420.58" class="md"/>
<path d="M1435.18 939.44V1002.03M1435.18 1183.5V1075.48" class="wh"/>
<path d="M1428.38 939.44H1441.98M1428.38 1183.5H1441.98" class="cap"/>
<rect x="1424.28" y="1002.03" width="21.8" height="73.45" fill="#b3b3ff" class="bx"/>
<path d="M1424.28 1034.35H1446.08" class="md"/>
<path d="M1486.35 938.31V997.51M1486.35 1209.49V1083.84" class="wh"/>
<path d="M1479.55 938.31H1493.15M1479.55 1209.49H1493.15" class="cap"/>
<rect x="1475.45" y="997.51" width="21.8" height="86.33" fill="#ff0000" class="bx"/>
<path d="M1475.45 1032.99H1497.25" class="md"/>
<path d="M1511.85 934.92V993.45M1511.85 1187.34V1071.64" class="wh"/>
<path d="M1505.05 934.92H1518.65M1505.05 1187.34H1518.65" class="cap"/>
<rect x="1500.95" y="993.45" width="21.8" height="78.19" fill="#ffb3b3" class="bx"/>
<path d="M1500.95 1023.5H1522.75" class="md"/>
<path d="M1537.35 927.01V1011.53M1537.35 1211.75V1090.62" class="wh"/>
<path d="M1530.55 927.01H1544.15M1530.55 1211.75H1544.15" class="cap"/>
<rect x="1526.45" y="1011.53" width="21.8" height="79.1" fill="#0000ff" class="bx"/>
<path d="M1526.45 1043.84H1548.25" class="md"/>
<path d="M1562.85 914.35V1004.29M1562.85 1156.16V1070.96" class="wh"/>
<path d="M1556.05 914.35H1569.65M1556.05 1156.16H1569.65" class="cap"/>
<rect x="1551.95" y="1004.29" width="21.8" height="66.67" fill="#b3b3ff" class="bx"/>
<path d="M1551.95 1032.09H1573.75" class="md"/>
<path d="M1614.02 929.72V993.45M1614.02 1192.99V1073.9" class="wh"/>
<path d="M1607.22 929.72H1620.82M1607.22 1192.99H1620.82" class="cap"/>
<rect x="1603.12" y="993.45" width="21.8" height="80.45" fill="#ff0000" class="bx"/>
<path d="M1603.12 1023.5H1624.92" class="md"/>
<path d="M1639.52 914.35V989.6M1639.52 1167.46V1060.34" class="wh"/>
<path d="M1632.72 914.35H1646.32M1632.72 1167.46H1646.32" class="cap"/>
<rect x="1628.62" y="989.6" width="21.8" height="70.73" fill="#ffb3b3" class="bx"/>
<path d="M1628.62 1017.85H1650.42" class="md"/>
<path d="M1665.02 927.01V1011.07M1665.02 1198.64V1086.33" class="wh"/>
<path d="M1658.22 927.01H1671.82M1658.22 1198.64H1671.82" class="cap"/>
<rect x="1654.12" y="1011.07" width="21.8" height="75.25" fill="#0000ff" class="bx"/>
<path d="M1654.12 1043.39H1675.92" class="md"/>
<path d="M1690.52 927.01V1004.75M1690.52 1159.1V1070.96" class="wh"/>
<path d="M1683.72 927.01H1697.32M1683.72 1159.1H1697.32" class="cap"/>
<rect x="1679.62" y="1004.75" width="21.8" height="66.21" fill="#b3b3ff" class="bx"/>
<path d="M1679.62 1034.35H1701.42" class="md"/>
<path d="M225.8 1401.81V1527.46M225.8 1718.87V1612.66" class="wh"/>
<path d="M213.6 1401.81H238M213.6 1718.87H238" class="cap"/>
<rect x="203.5" y="1527.46" width="44.6" height="85.2" fill="#ffa500" class="bx"/>
<path d="M203.5 1585.54H248.1" class="md"/>
<path d="M276.6 1419.44V1515.03M276.6 1673.67V1583.95" class="wh"/>
<path d="M264.4 1419.44H288.8M264.4 1673.67H288.8" class="cap"/>
<rect x="254.3" y="1515.03" width="44.6" height="68.93" fill="#a020f0" class="bx"/>
<path d="M254.3 1556.16H298.9" class="md"/>
<path d="M352.9 1417.18V1531.75M352.9 1720.45V1609.72" class="wh"/>
<path d="M340.7 1417.18H365.1M340.7 1720.45H365.1" class="cap"/>
<rect x="330.6" y="1531.75" width="44.6" height="77.97" fill="#ffa500" class="bx"/>
<path d="M330.6 1582.15H375.2" class="md"/>
<path d="M403.7 1412.66V1516.61M403.7 1673.67V1589.38" class="wh"/>
<path d="M391.5 1412.66H415.9M391.5 1673.67H415.9" class="cap"/>
<rect x="381.4" y="1516.61" width="44.6" height="72.77" fill="#a020f0" class="bx"/>
<path d="M381.4 1562.94H426" class="md"/>
<path d="M480 1416.05V1530.62M480 1688.81V1608.81" class="wh"/>
<path d="M467.8 1416.05H492.2M467.8 1688.81H492.2" class="cap"/>
<rect x="457.7" y="1530.62" width="44.6" height="78.19" fill="#ffa500" class="bx"/>
<path d="M457.7 1581.02H502.3" class="md"/>
<path d="M530.8 1412.66V1520.45M530.8 1686.1V1592.32" class="wh"/>
<path d="M518.6 1412.66H543M518.6 1686.1H543" class="cap"/>
<rect x="508.5" y="1520.45" width="44.6" height="71.86" fill="#a020f0" class="bx"/>
<path d="M508.5 1564.52H553.1" class="md"/>
<path d="M607.1 1395.03V1520.68M607.1 1706.44V1607.01" class="wh"/>
<path d="M594.9 1395.03H619.3M594.9 1706.44H619.3" class="cap"/>
<rect x="584.8" y="1520.68" width="44.6" height="86.33" fill="#ffa500" class="bx"/>
<path d="M584.8 1575.37H629.4" class="md"/>
<path d="M657.9 1425.54V1524.52M657.9 1677.74V1589.38" class="wh"/>
<path d="M645.7 1425.54H670.1M645.7 1677.74H670.1" class="cap"/>
<rect x="635.6" y="1524.52" width="44.6" height="64.86" fill="#a020f0" class="bx"/>
<path d="M635.6 1565.88H680.2" class="md"/>
<path d="M734.2 1415.59V1533.11M734.2 1694.46V1612.66" class="wh"/>
<path d="M722 1415.59H746.4M722 1694.46H746.4" class="cap"/>
<rect x="711.9" y="1533.11" width="44.6" height="79.55" fill="#ffa500" class="bx"/>
<path d="M711.9 1587.34H756.5" class="md"/>
<path d="M785 1402.03V1515.03M785 1677.74V1592.32" class="wh"/>
<path d="M772.8 1402.03H797.2M772.8 1677.74H797.2" class="cap"/>
<rect x="762.7" y="1515.03" width="44.6" height="77.29" fill="#a020f0" class="bx"/>
<path d="M762.7 1565.88H807.3" class="md"/>
<path d="M861.3 1389.6V1517.29M861.3 1674.8V1608.14" class="wh"/>
<path d="M849.1 1389.6H873.5M849.1 1674.8H873.5" class="cap"/>
<rect x="839" y="1517.29" width="44.6" height="90.85" fill="#ffa500" class="bx"/>
<path d="M839 1570.85H883.6" class="md"/>
<path d="M912.1 1430.73V1526.1M912.1 1670.28V1589.38" class="wh"/>
<path d="M899.9 1430.73H924.3M899.9 1670.28H924.3" class="cap"/>
<rect x="889.8" y="1526.1" width="44.6" height="63.28" fill="#a020f0" class="bx"/>
<path d="M889.8 1562.49H934.4" class="md"/>
<path d="M988.4 1401.81V1524.97M988.4 1681.13V1608.59" class="wh"/>
<path d="M976.2 1401.81H1000.6M976.2 1681.13H1000.6" class="cap"/>
<rect x="966.1" y="1524.97" width="44.6" height="83.62" fill="#ffa500" class="bx"/>
<path d="M966.1 1579.44H1010.7" class="md"/>
<path d="M1039.2 1425.54V1523.39M1039.2 1680.45V1589.38" class="wh"/>
<path d="M1027 1425.54H1051.4M1027 1680.45H1051.4" class="cap"/>
<rect x="1016.9" y="1523.39" width="44.6" height="65.99" fill="#a020f0" class="bx"/>
<path d="M1016.9 1563.62H1061.5" class="md"/>
<path d="M1115.5 1406.33V1527.23M1115.5 1691.75V1609.94" class="wh"/>
<path d="M1103.3 1406.33H1127.7M1103.3 1691.75H1127.7" class="cap"/>
<rect x="1093.2" y="1527.23" width="44.6" height="82.71" fill="#ffa500" class="bx"/>
<path d="M1093.2 1582.15H1137.8" class="md"/>
<path d="M1166.3 1444.75V1531.75M1166.3 1677.06V1589.6" class="wh"/>
<path d="M1154.1 1444.75H1178.5M1154.1 1677.06H1178.5" class="cap"/>
<rect x="1144" y="1531.75" width="44.6" height="57.85" fill="#a020f0" class="bx"/>
<path d="M1144 1564.75H1188.6" class="md"/>
<path d="M1242.6 1380.56V1513.9M1242.6 1690.17V1604.29" class="wh"/>
<path d="M1230.4 1380.56H1254.8M1230.4 1690.17H1254.8" class="cap"/>
<rect x="1220.3" y="1513.9" width="44.6" height="90.4" fill="#ffa500" class="bx"/>
<path d="M1220.3 1565.88H1264.9" class="md"/>
<path d="M1293.4 1440.9V1531.75M1293.4 1679.32V1593.45" class="wh"/>
<path d="M1281.2 1440.9H1305.6M1281.2 1679.32H1305.6" class="cap"/>
<rect x="1271.1" y="1531.75" width="44.6" height="61.69" fill="#a020f0" class="bx"/>
<path d="M1271.1 1566.33H1315.7" class="md"/>
<path d="M1369.7 1454.01V1546.67M1369.7 1679.32V1613.79" class="wh"/>
<path d="M1357.5 1454.01H1381.9M1357.5 1679.32H1381.9" class="cap"/>
<rect x="1347.4" y="1546.67" width="44.6" height="67.12" fill="#ffa500" class="bx"/>
<path d="M1347.4 1594.12H1392" class="md"/>
<path d="M1420.5 1456.72V1536.5M1420.5 1668.47V1594.12" class="wh"/>
<path d="M1408.3 1456.72H1432.7M1408.3 1668.47H1432.7" class="cap"/>
<rect x="1398.2" y="1536.5" width="44.6" height="57.63" fill="#a020f0" class="bx"/>
<path d="M1398.2 1571.3H1442.8" class="md"/>
<path d="M1496.8 1410.4V1529.04M1496.8 1697.4V1608.59" class="wh"/>
<path d="M1484.6 1410.4H1509M1484.6 1697.4H1509" class="cap"/>
<rect x="1474.5" y="1529.04" width="44.6" height="79.55" fill="#ffa500" class="bx"/>
<path d="M1474.5 1584.86H1519.1" class="md"/>
<path d="M1547.6 1444.29V1531.75M1547.6 1682.03V1593.45" class="wh"/>
<path d="M1535.4 1444.29H1559.8M1535.4 1682.03H1559.8" class="cap"/>
<rect x="1525.3" y="1531.75" width="44.6" height="61.69" fill="#a020f0" class="bx"/>
<path d="M1525.3 1572.66H1569.9" class="md"/>
<path d="M1623.9 1443.16V1542.6M1623.9 1692.88V1609.72" class="wh"/>
<path d="M1611.7 1443.16H1636.1M1611.7 1692.88H1636.1" class="cap"/>
<rect x="1601.6" y="1542.6" width="44.6" height="67.12" fill="#ffa500" class="bx"/>
<path d="M1601.6 1587.8H1646.2" class="md"/>
<path d="M1674.7 1461.24V1541.02M1674.7 1673.67V1595.03" class="wh"/>
<path d="M1662.5 1461.24H1686.9M1662.5 1673.67H1686.9" class="cap"/>
<rect x="1652.4" y="1541.02" width="44.6" height="54.01" fill="#a020f0" class="bx"/>
<path d="M1652.4 1572.66H1697" class="md"/>
<path d="M133.6 262.2H1766.4" class="zl"/>
<path d="M133.6 1590.3H1766.4" class="zl"/>
<rect x="133.6" y="4.9" width="1632.8" height="1735.5" class="fr"/>
<path d="M133.6 438.6H1766.4" class="fr"/>
<path d="M133.6 872.8H1766.4" class="fr"/>
<path d="M133.6 1306.3H1766.4" class="fr"/>
<path d="M123.4 21H133.6" class="tk"/>
<text transform="translate(115.4 33.2) scale(1 1.10)" class="yl">150</text>
<path d="M123.4 101.4H133.6" class="tk"/>
<text transform="translate(115.4 113.6) scale(1 1.10)" class="yl">100</text>
<path d="M123.4 181.8H133.6" class="tk"/>
<text transform="translate(115.4 194) scale(1 1.10)" class="yl">50</text>
<path d="M123.4 262.2H133.6" class="tk"/>
<text transform="translate(115.4 274.4) scale(1 1.10)" class="yl">0</text>
<path d="M123.4 342.6H133.6" class="tk"/>
<text transform="translate(115.4 354.8) scale(1 1.10)" class="yl">-50</text>
<path d="M123.4 423H133.6" class="tk"/>
<text transform="translate(115.4 435.2) scale(1 1.10)" class="yl">-100</text>
<path d="M123.4 455H133.6" class="tk"/>
<text transform="translate(115.4 467.2) scale(1 1.10)" class="yl">0</text>
<path d="M123.4 555.52H133.6" class="tk"/>
<text transform="translate(115.4 567.72) scale(1 1.10)" class="yl">-10</text>
<path d="M123.4 656.04H133.6" class="tk"/>
<text transform="translate(115.4 668.24) scale(1 1.10)" class="yl">-20</text>
<path d="M123.4 756.56H133.6" class="tk"/>
<text transform="translate(115.4 768.76) scale(1 1.10)" class="yl">-30</text>
<path d="M123.4 857.08H133.6" class="tk"/>
<text transform="translate(115.4 869.28) scale(1 1.10)" class="yl">-40</text>
<path d="M123.4 888.6H133.6" class="tk"/>
<text transform="translate(115.4 900.8) scale(1 1.10)" class="yl">1</text>
<path d="M123.4 969H133.6" class="tk"/>
<text transform="translate(115.4 981.2) scale(1 1.10)" class="yl">0.75</text>
<path d="M123.4 1049.4H133.6" class="tk"/>
<text transform="translate(115.4 1061.6) scale(1 1.10)" class="yl">0.5</text>
<path d="M123.4 1129.8H133.6" class="tk"/>
<text transform="translate(115.4 1142) scale(1 1.10)" class="yl">0.25</text>
<path d="M123.4 1210.2H133.6" class="tk"/>
<text transform="translate(115.4 1222.4) scale(1 1.10)" class="yl">0</text>
<path d="M123.4 1290.6H133.6" class="tk"/>
<text transform="translate(115.4 1302.8) scale(1 1.10)" class="yl">-0.25</text>
<path d="M123.4 1322.3H133.6" class="tk"/>
<text transform="translate(115.4 1334.5) scale(1 1.10)" class="yl">0.5</text>
<path d="M123.4 1456.3H133.6" class="tk"/>
<text transform="translate(115.4 1468.5) scale(1 1.10)" class="yl">0.25</text>
<path d="M123.4 1590.3H133.6" class="tk"/>
<text transform="translate(115.4 1602.5) scale(1 1.10)" class="yl">0</text>
<path d="M123.4 1724.3H133.6" class="tk"/>
<text transform="translate(115.4 1736.5) scale(1 1.10)" class="yl">-0.25</text>
<path d="M251.2 1740.4V1749.9" class="tk"/>
<text transform="translate(251.2 1785) scale(1 1.02)" class="xl">2005</text>
<path d="M378.3 1740.4V1749.9" class="tk"/>
<text transform="translate(378.3 1785) scale(1 1.02)" class="xl">2006</text>
<path d="M505.4 1740.4V1749.9" class="tk"/>
<text transform="translate(505.4 1785) scale(1 1.02)" class="xl">2007</text>
<path d="M632.5 1740.4V1749.9" class="tk"/>
<text transform="translate(632.5 1785) scale(1 1.02)" class="xl">2008</text>
<path d="M759.6 1740.4V1749.9" class="tk"/>
<text transform="translate(759.6 1785) scale(1 1.02)" class="xl">2009</text>
<path d="M886.7 1740.4V1749.9" class="tk"/>
<text transform="translate(886.7 1785) scale(1 1.02)" class="xl">2010</text>
<path d="M1013.8 1740.4V1749.9" class="tk"/>
<text transform="translate(1013.8 1785) scale(1 1.02)" class="xl">2011</text>
<path d="M1140.9 1740.4V1749.9" class="tk"/>
<text transform="translate(1140.9 1785) scale(1 1.02)" class="xl">2012</text>
<path d="M1268 1740.4V1749.9" class="tk"/>
<text transform="translate(1268 1785) scale(1 1.02)" class="xl">2013</text>
<path d="M1395.1 1740.4V1749.9" class="tk"/>
<text transform="translate(1395.1 1785) scale(1 1.02)" class="xl">2014</text>
<path d="M1522.2 1740.4V1749.9" class="tk"/>
<text transform="translate(1522.2 1785) scale(1 1.02)" class="xl">2015</text>
<path d="M1649.3 1740.4V1749.9" class="tk"/>
<text transform="translate(1649.3 1785) scale(1 1.02)" class="xl">2016</text>
<text transform="translate(950.4 1829.5) scale(1 1.02)" class="xt">Year</text>
<text x="142.1" y="40.6" class="pl">(a)</text>
<text x="142.1" y="476.9" class="pl">(b)</text>
<text x="142.1" y="907.1" class="pl">(c)</text>
<text x="142.1" y="1344" class="pl">(d)</text>
<text transform="translate(41.8 220.9) rotate(-90) scale(1 1.085)" class="yt">RB(%)</text>
<text transform="translate(35.2 656.2) rotate(-90) scale(1 1.085)" class="yt"><tspan class="dl" font-size="40">&#916;</tspan>RB(%)</text>
<text transform="translate(42 1089) rotate(-90) scale(1 1.085)" class="yt">KGE'</text>
<text transform="translate(42 1524) rotate(-90) scale(1 1.085)" class="yt"><tspan class="dl" font-size="40">&#916;</tspan>KGE&#39;</text>
<rect x="448.5" y="1897.5" width="24.9" height="21.4" fill="#ff0000" class="lb"/>
<text x="505" y="1918.2" class="lg">IMERG_O</text>
<rect x="448.5" y="1938.7" width="24.9" height="21.4" fill="#0000ff" class="lb"/>
<text x="505" y="1959.4" class="lg">ERA5-Land_O</text>
<rect x="757.8" y="1897.5" width="24.9" height="21.4" fill="#ffb3b3" class="lb"/>
<text x="814" y="1918.2" class="lg">IMERG_C</text>
<rect x="757.8" y="1938.7" width="24.9" height="21.4" fill="#b3b3ff" class="lb"/>
<text x="814" y="1959.4" class="lg">ERA5-Land_C</text>
<rect x="1066.5" y="1897.5" width="24.9" height="21.4" fill="#ffa500" class="lb"/>
<text x="1122.8" y="1921.2" class="lg"><tspan class="dl" font-size="35">&#916;</tspan>IMERG</text>
<rect x="1066.5" y="1938.7" width="24.9" height="21.4" fill="#a020f0" class="lb"/>
<text x="1122.8" y="1962.4" class="lg"><tspan class="dl" font-size="35">&#916;</tspan>ERA5-Land</text>
</svg>
</body></html>
